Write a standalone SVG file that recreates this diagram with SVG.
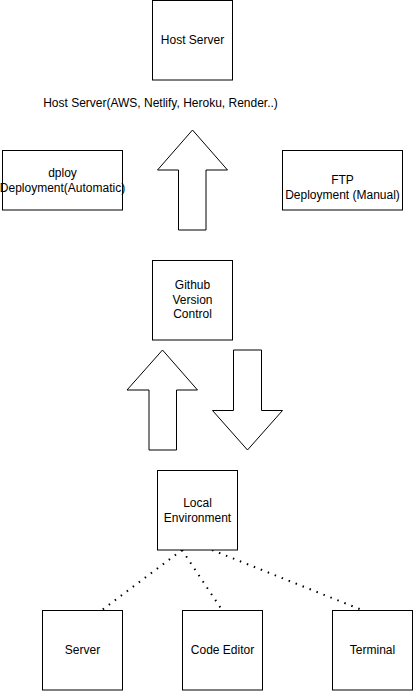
<svg xmlns="http://www.w3.org/2000/svg" width="413" height="691" viewBox="0 0 413 691">
<style>
.box{fill:#fff;stroke:#000;stroke-width:1}
.arr{fill:#fff;stroke:#000;stroke-width:1;stroke-linejoin:miter}
text{font-family:"Liberation Sans",Arial,sans-serif;font-size:12px;fill:#000;text-anchor:middle}
.dot{fill:none;stroke:#000;stroke-width:2;stroke-dasharray:1.5 6}
</style>
<rect width="413" height="691" fill="#fff"/>
<g id="connectors">
<path class="dot" d="M182 550 L102 610"/>
<path class="dot" d="M182 550 L222 610"/>
<path class="dot" d="M212 550 L362 610"/>
</g>
<g id="host-server"><rect class="box" x="152.5" y="0.5" width="80" height="79.5"/><text x="192.5" y="44">Host Server</text></g>
<g id="host-label"><text x="160.5" y="107">Host Server(AWS, Netlify, Heroku, Render..)</text></g>
<g id="arrow-deploy"><polygon class="arr" points="192.5,130 227.5,170 206,170 206,230 178.5,230 178.5,170 157.5,170"/></g>
<g id="dploy"><rect class="box" x="2.5" y="150.5" width="120" height="59.5"/><text x="62.5" y="177">dploy</text><text x="62.5" y="192">Deployment(Automatic)</text></g>
<g id="ftp"><rect class="box" x="282.5" y="150.5" width="120" height="59.5"/><text x="342.5" y="184">FTP</text><text x="342.5" y="199">Deployment (Manual)</text></g>
<g id="github"><rect class="box" x="152.5" y="260.5" width="80" height="79.5"/><text x="192.5" y="289">Github</text><text x="192.5" y="304">Version</text><text x="192.5" y="318">Control</text></g>
<g id="arrow-push"><polygon class="arr" points="162.5,350 197.5,390 176.5,390 176.5,450 149,450 149,390 127,390"/></g>
<g id="arrow-pull"><polygon class="arr" points="233.5,350 261.5,350 261.5,410.5 282.5,410.5 247.5,450 212.5,410.5 233.5,410.5"/></g>
<g id="local"><rect class="box" x="157.5" y="470.5" width="80" height="79.5"/><text x="197.5" y="507">Local</text><text x="197.5" y="522">Environment</text></g>
<g id="server"><rect class="box" x="42.5" y="610.5" width="80" height="79.5"/><text x="82.5" y="654">Server</text></g>
<g id="code-editor"><rect class="box" x="182.5" y="610.5" width="80" height="79.5"/><text x="222.5" y="654">Code Editor</text></g>
<g id="terminal"><rect class="box" x="332.5" y="610.5" width="80" height="79.5"/><text x="372.5" y="654">Terminal</text></g>
</svg>
